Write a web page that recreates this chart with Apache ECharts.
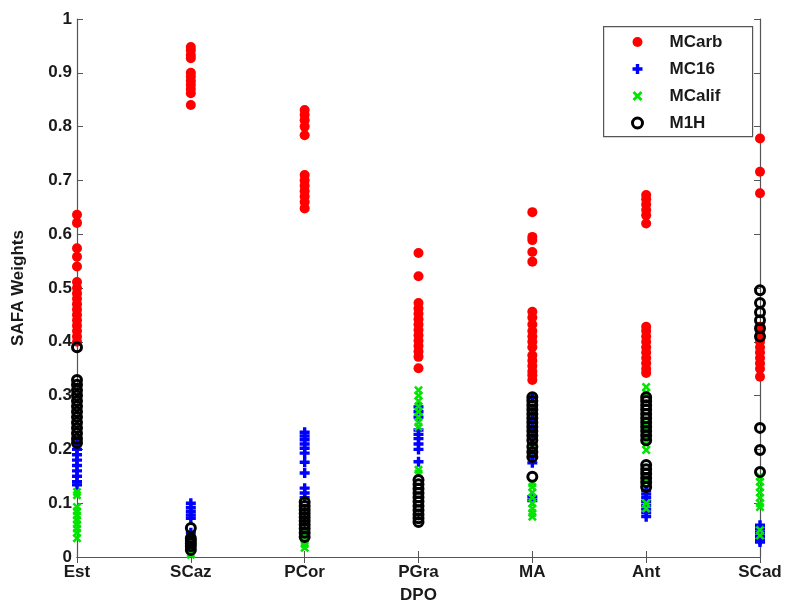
<!DOCTYPE html>
<html>
<head>
<meta charset="utf-8">
<script src="https://cdn.jsdelivr.net/npm/echarts@6/dist/echarts.min.js"></script>
<style>
  html, body { margin: 0; padding: 0; background: #fff; }
  #chart { width: 793px; height: 610px; }
</style>
</head>
<body>
<div id="chart"></div>
<script>
// DPO categories along the x axis
const categories = ['Est', 'SCaz', 'PCor', 'PGra', 'MA', 'Ant', 'SCad'];
const yTicks = [0, 0.1, 0.2, 0.3, 0.4, 0.5, 0.6, 0.7, 0.8, 0.9, 1];

// SAFA weights per model, one list per DPO category (same order as categories)
const mcarb = [
  [0.636, 0.621, 0.574, 0.558, 0.54, 0.511, 0.50, 0.49, 0.48, 0.47, 0.46, 0.45, 0.44, 0.43, 0.42, 0.41, 0.40],
  [0.948, 0.942, 0.933, 0.927, 0.90, 0.893, 0.885, 0.878, 0.87, 0.862, 0.84],
  [0.831, 0.822, 0.812, 0.80, 0.784, 0.71, 0.70, 0.69, 0.68, 0.67, 0.66, 0.648],
  [0.565, 0.522, 0.472, 0.462, 0.452, 0.442, 0.432, 0.422, 0.412, 0.402, 0.392, 0.382, 0.372, 0.351],
  [0.641, 0.595, 0.589, 0.567, 0.549, 0.456, 0.445, 0.432, 0.42, 0.41, 0.40, 0.39, 0.375, 0.365, 0.355, 0.345, 0.338, 0.329],
  [0.673, 0.665, 0.655, 0.645, 0.635, 0.62, 0.428, 0.42, 0.41, 0.40, 0.39, 0.38, 0.37, 0.36, 0.35, 0.342],
  [0.778, 0.716, 0.676, 0.428, 0.42, 0.41, 0.40, 0.39, 0.38, 0.37, 0.36, 0.35, 0.335]
];
const mc16 = [
  [0.21, 0.20, 0.19, 0.18, 0.17, 0.16, 0.15, 0.14, 0.134],
  [0.100, 0.092, 0.085, 0.078, 0.072, 0.045],
  [0.232, 0.225, 0.218, 0.21, 0.202, 0.193, 0.176, 0.156, 0.128, 0.119, 0.11],
  [0.279, 0.27, 0.26, 0.236, 0.228, 0.22, 0.21, 0.20, 0.177],
  [0.297, 0.275, 0.255, 0.24, 0.225, 0.21, 0.2, 0.186, 0.175, 0.112, 0.105],
  [0.124, 0.117, 0.11, 0.103, 0.096, 0.089, 0.082, 0.075],
  [0.059, 0.052, 0.045, 0.038, 0.031, 0.028]
];
const mcalif = [
  [0.121, 0.115, 0.093, 0.085, 0.077, 0.069, 0.061, 0.053, 0.045, 0.035],
  [0.007, 0.004],
  [0.045, 0.038, 0.031, 0.024, 0.017],
  [0.31, 0.30, 0.29, 0.28, 0.27, 0.26, 0.25, 0.242, 0.162, 0.155],
  [0.215, 0.205, 0.195, 0.137, 0.13, 0.12, 0.11, 0.10, 0.09, 0.082, 0.075],
  [0.316, 0.305, 0.249, 0.24, 0.23, 0.22, 0.21, 0.199, 0.149, 0.14, 0.10, 0.09],
  [0.149, 0.14, 0.13, 0.12, 0.11, 0.10, 0.093, 0.05, 0.04]
];
const m1h = [
  [0.39, 0.329, 0.32, 0.31, 0.30, 0.29, 0.28, 0.27, 0.26, 0.25, 0.24, 0.23, 0.22, 0.212],
  [0.054, 0.035, 0.03, 0.025, 0.02, 0.013],
  [0.102, 0.095, 0.088, 0.081, 0.074, 0.067, 0.06, 0.053, 0.045, 0.037],
  [0.143, 0.135, 0.127, 0.119, 0.111, 0.103, 0.095, 0.087, 0.079, 0.072, 0.065],
  [0.297, 0.29, 0.282, 0.274, 0.266, 0.258, 0.25, 0.242, 0.234, 0.226, 0.217, 0.205, 0.195, 0.186, 0.149],
  [0.297, 0.29, 0.282, 0.274, 0.266, 0.258, 0.25, 0.242, 0.234, 0.226, 0.217, 0.171, 0.163, 0.155, 0.147, 0.139, 0.13],
  [0.496, 0.472, 0.455, 0.44, 0.425, 0.41, 0.24, 0.199, 0.158]
];

// flatten per-category lists into [category, value] points
function toPoints(groups) {
  const pts = [];
  groups.forEach((vals, i) => vals.forEach(v => pts.push([categories[i], v])));
  return pts;
}

const FONT = "'Liberation Sans', Arial, sans-serif";
const AXIS_COLOR = '#555';
const RED = '#ff0000', BLUE = '#0000ff', GREEN = '#00e600', BLACK = '#000000';
const plusPath = 'path://M3.3,0H6.7V3.3H10V6.7H6.7V10H3.3V6.7H0V3.3H3.3Z';
const starPath = 'path://M0,2L2,0L5,3L8,0L10,2L7,5L10,8L8,10L5,7L2,10L0,8L3,5Z';
// open ring: transparent fill, thick black outline
const ringStyle = { color: 'rgba(0,0,0,0)', borderColor: BLACK, borderWidth: 3, opacity: 1 };

const chart = echarts.init(document.getElementById('chart'), null, { renderer: 'canvas' });

const labelStyle = { fontFamily: FONT, fontWeight: 'bold', fontSize: 17, color: '#1a1a1a' };

chart.setOption({
  animation: false,
  backgroundColor: '#fff',
  grid: { left: 77, right: 33, top: 19, bottom: 53, containLabel: false },
  graphic: [{
    type: 'rect',
    left: 603, top: 26, z: 90,
    shape: { width: 149, height: 110 },
    style: { fill: '#fff', stroke: AXIS_COLOR, lineWidth: 1.2 }
  }],
  legend: {
    orient: 'vertical',
    left: 631, top: 33, z: 100,
    padding: 0,
    itemWidth: 10, itemHeight: 10, itemGap: 9,
    textStyle: Object.assign({}, labelStyle, { lineHeight: 18, padding: [0, 0, 0, 22] }),
    data: [
      { name: 'MCarb', icon: 'circle', itemStyle: { color: RED } },
      { name: 'MC16', icon: plusPath, itemStyle: { color: BLUE } },
      { name: 'MCalif', icon: starPath, itemStyle: { color: GREEN } },
      { name: 'M1H', icon: 'circle', itemStyle: ringStyle }
    ]
  },
  xAxis: [{
    type: 'category',
    data: categories,
    boundaryGap: false,
    position: 'bottom',
    name: 'DPO',
    nameLocation: 'middle',
    nameGap: 30,
    nameTextStyle: labelStyle,
    axisLine: { lineStyle: { color: AXIS_COLOR, width: 1.2 } },
    axisTick: { inside: true, length: 6, alignWithLabel: true, lineStyle: { color: AXIS_COLOR } },
    axisLabel: Object.assign({ margin: 7, interval: 0 }, labelStyle),
    splitLine: { show: false }
  }, {
    type: 'category',
    data: categories,
    boundaryGap: false,
    position: 'top',
    axisLine: { lineStyle: { color: AXIS_COLOR, width: 1.2 } },
    axisTick: { inside: true, length: 6, lineStyle: { color: AXIS_COLOR } },
    axisLabel: { show: false },
    splitLine: { show: false }
  }],
  yAxis: [{
    type: 'value',
    min: yTicks[0], max: yTicks[yTicks.length - 1], interval: 0.1,
    position: 'left',
    name: 'SAFA Weights',
    nameLocation: 'middle',
    nameGap: 50,
    nameTextStyle: labelStyle,
    axisLine: { show: true, lineStyle: { color: AXIS_COLOR, width: 1.2 } },
    axisTick: { show: true, inside: true, length: 6, lineStyle: { color: AXIS_COLOR } },
    axisLabel: Object.assign({ margin: 5 }, labelStyle),
    splitLine: { show: false }
  }, {
    type: 'value',
    min: yTicks[0], max: yTicks[yTicks.length - 1], interval: 0.1,
    position: 'right',
    axisLine: { show: true, lineStyle: { color: AXIS_COLOR, width: 1.2 } },
    axisTick: { show: true, inside: true, length: 6, lineStyle: { color: AXIS_COLOR } },
    axisLabel: { show: false },
    splitLine: { show: false }
  }],
  series: [{
    name: 'MCarb', type: 'scatter', clip: false,
    symbol: 'circle', symbolSize: 10,
    itemStyle: { color: RED, opacity: 1 },
    data: toPoints(mcarb)
  }, {
    name: 'MC16', type: 'scatter', clip: false,
    symbol: plusPath, symbolSize: 10,
    itemStyle: { color: BLUE, opacity: 1 },
    data: toPoints(mc16)
  }, {
    name: 'MCalif', type: 'scatter', clip: false,
    symbol: starPath, symbolSize: 9,
    itemStyle: { color: GREEN, opacity: 1 },
    data: toPoints(mcalif)
  }, {
    name: 'M1H', type: 'scatter', clip: false,
    symbol: 'circle', symbolSize: 9,
    itemStyle: ringStyle,
    data: toPoints(m1h)
  }]
});
</script>
</body>
</html>
